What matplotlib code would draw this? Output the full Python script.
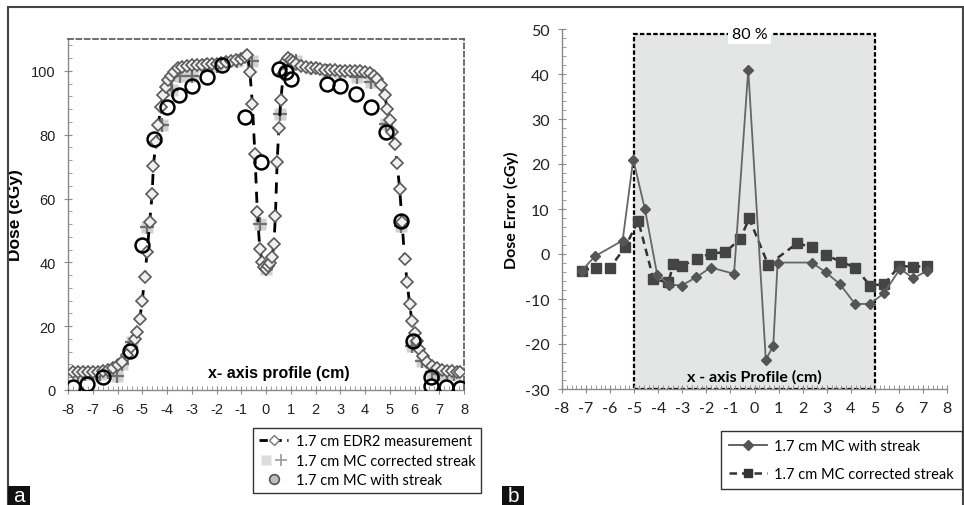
import matplotlib

matplotlib.use("Agg")
import matplotlib.pyplot as plt
from matplotlib.legend_handler import HandlerTuple
from matplotlib.lines import Line2D
from matplotlib.patches import Rectangle
from matplotlib.ticker import MultipleLocator

plt.rcParams["axes.unicode_minus"] = False

# ---- panel a: dose profiles (cGy) ----
edr2_x = [-7.8, -7.6, -7.4, -7.2, -7.0, -6.8, -6.6, -6.4, -6.2, -6.0, -5.8, -5.6,
          -5.45, -5.3, -5.2, -5.1, -5.0, -4.9, -4.8, -4.7, -4.6, -4.55, -4.45, -4.35,
          -4.25, -4.15, -4.05, -3.95, -3.85, -3.7, -3.55, -3.4, -3.2, -3.0, -2.8, -2.6,
          -2.4, -2.2, -2.0, -1.8, -1.6, -1.4, -1.2, -1.0, -0.85, -0.75, -0.65, -0.55,
          -0.45, -0.35, -0.25, -0.15, -0.08, 0.0, 0.08, 0.15, 0.25, 0.32, 0.38, 0.45,
          0.52, 0.6, 0.7, 0.8, 0.9, 1.0, 1.1, 1.2, 1.4, 1.6, 1.8, 2.0, 2.2, 2.4, 2.6,
          2.8, 3.0, 3.2, 3.4, 3.6, 3.8, 4.0, 4.2, 4.35, 4.5, 4.65, 4.8, 4.9, 5.0, 5.1,
          5.2, 5.3, 5.4, 5.5, 5.6, 5.7, 5.8, 5.9, 6.0, 6.1, 6.2, 6.35, 6.5, 6.7, 6.9,
          7.1, 7.3, 7.5, 7.7, 7.85]
edr2_dose = [5.5, 5.5, 5.5, 5.5, 5.5, 5.5, 5.8, 6.2, 7.0, 7.8, 8.8, 11.0,
             13.5, 16.0, 18.2, 22.3, 28.0, 35.4, 43.4, 52.6, 61.4, 70.3, 77.6, 83.0,
             88.7, 92.3, 95.0, 97.0, 98.5, 99.8, 100.8, 101.3, 101.6, 101.8, 102.0, 102.0,
             102.1, 102.2, 102.3, 102.5, 102.7, 103.0, 103.3, 103.8, 104.5, 105.0, 99.6, 89.7,
             74.0, 55.7, 44.2, 40.0, 38.5, 38.0, 39.0, 39.8, 41.6, 45.8, 54.6, 71.4,
             82.0, 91.0, 99.0, 103.0, 104.0, 103.5, 102.8, 102.2, 101.6, 101.2, 101.0, 100.8,
             100.6, 100.4, 100.3, 100.2, 100.1, 100.0, 100.0, 100.0, 100.0, 99.8, 99.5, 98.5,
             97.5, 95.5, 92.3, 88.0, 84.5, 81.0, 77.0, 71.0, 63.0, 52.5, 41.0, 34.0, 27.0,
             21.5, 18.0, 15.5, 12.8, 10.5, 8.8, 7.6, 6.8, 6.4, 6.0, 5.8, 5.6, 5.5]

corr_x = [-7.6, -7.3, -7.0, -6.7, -6.4, -6.03, -5.8, -5.4, -4.8, -4.2, -3.8, -3.47,
          -3.0, -2.5, -2.0, -1.17, -0.56, -0.23, 0.0, 0.58, 1.2, 1.8, 2.47, 3.0, 3.69,
          4.23, 4.83, 5.44, 5.91, 6.3, 6.7, 7.0, 7.3, 7.6]
corr_dose = [5.0, 5.0, 5.0, 5.0, 5.5, 4.5, 8.0, 15.0, 51.0, 83.0, 94.0, 98.5,
             98.5, 101.6, 101.5, 103.2, 103.2, 52.0, 38.0, 86.5, 103.0, 101.0, 100.0, 99.6,
             98.0, 96.4, 83.4, 51.5, 13.9, 9.0, 5.5, 5.0, 5.0, 5.0]

streak_x = [-7.78, -7.24, -6.6, -5.49, -5.02, -4.52, -4.0, -3.51, -3.0, -2.39, -1.78,
            -0.83, -0.2, 0.51, 0.79, 0.99, 2.47, 3.01, 3.62, 4.23, 4.83, 5.44, 5.95,
            6.66, 6.66, 7.26, 7.84]
streak_dose = [0.8, 1.9, 4.0, 12.3, 45.4, 78.7, 88.6, 92.3, 95.4, 98.0, 101.7,
               85.5, 71.4, 100.6, 99.6, 97.5, 95.9, 95.4, 92.8, 88.6, 80.8, 53.1, 15.5,
               4.0, 1.4, 0.8, 0.5]

# ---- panel b: dose error (cGy) ----
err_streak_x = [-7.18, -6.63, -5.48, -5.04, -4.55, -4.04, -3.54, -3.03, -2.43, -1.82,
                -0.85, -0.26, 0.47, 0.78, 0.96, 2.38, 2.97, 3.55, 4.18, 4.8, 5.38, 6.05,
                6.6, 7.18]
err_streak = [-3.7, -0.5, 3.0, 21.0, 9.9, -4.7, -6.8, -7.0, -5.2, -3.0,
              -4.4, 41.0, -23.5, -20.4, -1.9, -1.9, -4.1, -6.7, -11.1, -11.1, -8.7, -3.3,
              -5.4, -3.7]
err_corr_x = [-7.18, -6.59, -6.0, -5.38, -4.83, -4.2, -3.58, -3.37, -3.03, -2.4, -1.82,
              -1.22, -0.6, -0.22, 0.57, 1.78, 2.38, 2.97, 3.58, 4.18, 4.8, 5.4, 6.02,
              6.6, 7.18]
err_corr = [-3.7, -3.0, -3.0, 1.5, 7.4, -5.6, -6.3, -2.2, -2.7, -1.0, 0.1,
            0.4, 3.3, 7.9, -2.4, 2.4, 1.5, -0.2, -1.7, -3.0, -7.0, -6.7, -2.6,
            -2.9, -2.6]

W, H = 964, 506
fig = plt.figure(figsize=(W / 100, H / 100), dpi=100)
CAL = ["Lato", "DejaVu Sans"]
ARI = ["Liberation Sans", "DejaVu Sans"]


def style_axis(ax, family, size):
    for s in ("left", "bottom"):
        ax.spines[s].set_color("#8a8a8a")
        ax.spines[s].set_linewidth(1.0)
    ax.tick_params(which="major", direction="inout", length=6, color="#8a8a8a",
                   labelsize=size, pad=6)
    ax.tick_params(which="minor", direction="in", length=3, color="#8a8a8a")
    for lab in ax.get_xticklabels() + ax.get_yticklabels():
        lab.set_family(family)
        lab.set_color("#222222")


# ---------------- panel a ----------------
ax1 = fig.add_axes([68 / W, 1 - 391 / H, (464 - 68) / W, (391 - 40) / H])
ax1.set_xlim(-8, 8)
ax1.set_ylim(0, 110)
ax1.xaxis.set_major_locator(MultipleLocator(1))
ax1.xaxis.set_minor_locator(MultipleLocator(0.2))
ax1.yaxis.set_minor_locator(MultipleLocator(4))
ax1.set_yticks([0, 20, 40, 60, 80, 100])
for s in ("top", "right"):
    ax1.spines[s].set_linestyle((0, (3, 2)))
    ax1.spines[s].set_color("#555555")
    ax1.spines[s].set_linewidth(1.2)

ax1.plot(corr_x, corr_dose, ls="none", marker="s", ms=9, mfc="#c9c9c9", mec="none",
         alpha=0.85, zorder=2)
ax1.plot(corr_x, corr_dose, ls="none", marker="+", ms=10, mew=1.6, color="#707070",
         zorder=3)
ax1.plot(edr2_x, edr2_dose, ls=(0, (4, 3)), lw=2.0, color="black", marker="D", ms=6,
         mfc="#f0f0f0", mec="#5a5a5a", mew=1.2, zorder=4)
ax1.plot(streak_x, streak_dose, ls="none", marker="o", ms=10, mfc="none", mec="black",
         mew=1.8, zorder=5)

ax1.set_ylabel("Dose (cGy)", family=ARI, fontsize=12.5, fontweight="bold", labelpad=6)
ax1.text(0.5, 5.5, "x- axis profile (cm)", family=ARI, fontsize=11.5, fontweight="bold",
         ha="center", va="center")
style_axis(ax1, ARI, 10.5)

h_edr2 = Line2D([], [], ls=(0, (3, 2)), lw=2.0, color="black", marker="D", ms=5,
                mfc="white", mec="#777777")
h_corr_bg = Line2D([], [], ls="none", marker="s", ms=7, mfc="#dcdcdc", mec="none")
h_corr = Line2D([], [], ls="none", marker="+", ms=8, mew=1.2, color="#9a9a9a")
h_streak = Line2D([], [], ls="none", marker="o", ms=7, mfc="#bdbdbd", mec="#555555",
                  mew=1.2)
fig.legend([h_edr2, (h_corr_bg, h_corr), h_streak],
           ["1.7 cm EDR2 measurement", "1.7 cm MC corrected streak",
            "1.7 cm MC with streak"],
           handler_map={tuple: HandlerTuple(ndivide=None, pad=0)},
           loc="upper right", bbox_to_anchor=(481 / W, 1 - 429 / H),
           prop={"family": CAL, "size": 10.5}, frameon=True, fancybox=False,
           edgecolor="#333333", framealpha=1, borderpad=0.4, labelspacing=0.4,
           handlelength=2.0, handletextpad=0.5, borderaxespad=0)

# ---------------- panel b ----------------
ax2 = fig.add_axes([562 / W, 1 - 390 / H, (947 - 562) / W, (390 - 30) / H])
ax2.set_xlim(-8, 8)
ax2.set_ylim(-30, 50)
ax2.xaxis.set_major_locator(MultipleLocator(1))
ax2.xaxis.set_minor_locator(MultipleLocator(0.2))
ax2.yaxis.set_major_locator(MultipleLocator(10))
ax2.yaxis.set_minor_locator(MultipleLocator(2))
for s in ("top", "right"):
    ax2.spines[s].set_visible(False)

ax2.add_patch(Rectangle((-5, -30), 10, 79, facecolor="#e4e5e5", edgecolor="black",
                        lw=1.6, ls=(0, (2, 1)), zorder=1))
ax2.text(-0.2, 49, "80 %", family=CAL, fontsize=11.5, ha="center", va="center",
         zorder=6, bbox=dict(facecolor="white", edgecolor="none", pad=2.5))

ax2.plot(err_streak_x, err_streak, ls="-", lw=1.3, color="#666666", marker="D", ms=5,
         mfc="#555555", mec="#555555", zorder=4)
ax2.plot(err_corr_x, err_corr, ls=(0, (3, 2)), lw=1.8, color="#333333", marker="s", ms=7.5,
         mfc="#444444", mec="#444444", zorder=3)

ax2.set_ylabel("Dose Error (cGy)", family=CAL, fontsize=11.5, fontweight="bold",
               labelpad=4)
ax2.text(0.0, -27.2, "x - axis Profile (cm)", family=CAL, fontsize=11.5,
         fontweight="bold", ha="center", va="center", zorder=6)
style_axis(ax2, CAL, 11.5)

h_es = Line2D([], [], ls="-", lw=1.3, color="#555555", marker="D", ms=5)
h_ec = Line2D([], [], ls=(0, (3, 2)), lw=1.8, color="#333333", marker="s", ms=6)
fig.legend([h_es, h_ec], ["1.7 cm MC with streak", "1.7 cm MC corrected streak"],
           loc="upper right", bbox_to_anchor=(962 / W, 1 - 432 / H),
           prop={"family": CAL, "size": 10.5}, frameon=True, fancybox=False,
           edgecolor="#333333", framealpha=1, borderpad=0.55, labelspacing=0.95,
           handlelength=2.6, handletextpad=0.5, borderaxespad=0)

# outer frame and panel letters
fig.add_artist(Rectangle((8 / W, -0.01), (963 - 8) / W, (H - 8) / H + 0.01,
                         transform=fig.transFigure, fill=False, ec="#444444", lw=1.5))
for x0, letter in ((8, "a"), (502, "b")):
    fig.add_artist(Rectangle((x0 / W, 0), 22 / W, 19 / H, transform=fig.transFigure,
                             facecolor="#111111", edgecolor="none"))
    fig.text((x0 + 11) / W, 9 / H, letter, color="white", fontsize=15, family=ARI,
             ha="center", va="center")

fig.savefig("out.png", dpi=100)
